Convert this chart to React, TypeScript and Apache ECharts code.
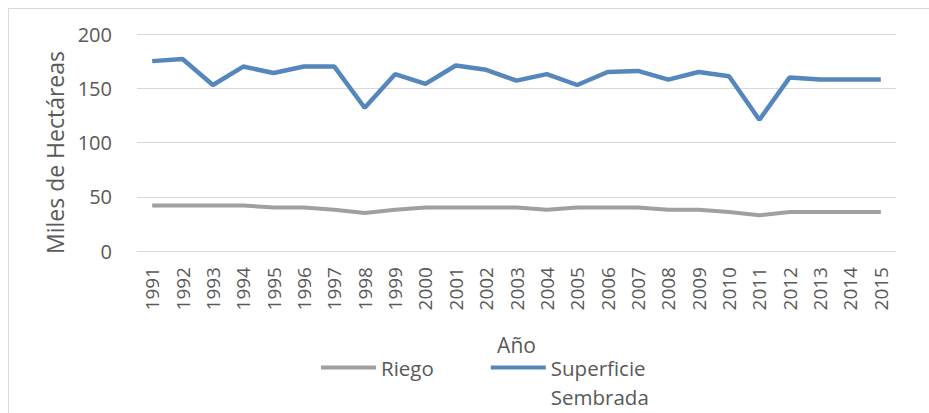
import React, { useEffect, useRef } from "react";
import * as echarts from "echarts";

const years = [
  "1991", "1992", "1993", "1994", "1995", "1996", "1997", "1998", "1999", "2000",
  "2001", "2002", "2003", "2004", "2005", "2006", "2007", "2008", "2009", "2010",
  "2011", "2012", "2013", "2014", "2015",
];
const riego = [42, 42, 42, 42, 40, 40, 38, 35, 38, 40, 40, 40, 40, 38, 40, 40, 40, 38, 38, 36, 33, 36, 36, 36, 36];
const superficie = [175, 177, 153, 170, 164, 170, 170, 132, 163, 154, 171, 167, 157, 163, 153, 165, 166, 158, 165, 161, 121, 160, 158, 158, 158];
const yTicks = { min: 0, max: 200, interval: 50 };

const FONT = "'Open Sans', sans-serif";
const TXT = "#595959";

export default function App() {
  const ref = useRef<HTMLDivElement>(null);
  useEffect(() => {
    if (!ref.current) return;
    const chart = echarts.init(ref.current, null, { renderer: "svg" });
    chart.setOption({
      animation: false,
      backgroundColor: "#ffffff",
      textStyle: { fontFamily: FONT },
      graphic: [
        {
          type: "rect",
          shape: { x: 8.5, y: 8.5, width: 960, height: 440 },
          style: { fill: "none", stroke: "#D9D9D9", lineWidth: 1 },
          silent: true,
        },
      ],
      grid: { left: 137, right: 33, top: 34, bottom: 162 },
      legend: {
        left: 316,
        top: 319,
        orient: "horizontal",
        itemWidth: 55,
        itemHeight: 4,
        itemGap: 57,
        textStyle: { color: TXT, fontSize: 20.5, fontFamily: FONT, lineHeight: 29 },
        formatter: (name: string) => (name === "Superficie Sembrada" ? "\nSuperficie\nSembrada" : name),
        data: [
          { name: "Riego", icon: "rect" },
          { name: "Superficie Sembrada", icon: "rect" },
        ],
      },
      xAxis: {
        type: "category",
        data: years,
        boundaryGap: true,
        name: "Año",
        nameLocation: "middle",
        nameGap: 83,
        nameTextStyle: { color: TXT, fontSize: 21, fontFamily: FONT },
        axisLine: { show: true, lineStyle: { color: "#D9D9D9", width: 1 } },
        axisTick: { show: false },
        axisLabel: { rotate: 90, color: TXT, fontSize: 19, fontFamily: FONT, margin: 16, interval: 0 },
      },
      yAxis: {
        type: "value",
        min: yTicks.min,
        max: yTicks.max,
        interval: yTicks.interval,
        name: "Miles de Hectáreas",
        nameLocation: "middle",
        nameRotate: 90,
        nameGap: 70,
        nameTextStyle: { color: TXT, fontSize: 23, fontFamily: FONT, padding: [0, 20, 0, 0] },
        axisLine: { show: false },
        axisTick: { show: false },
        axisLabel: { color: TXT, fontSize: 20, fontFamily: FONT, margin: 25 },
        splitLine: { lineStyle: { color: "#D9D9D9", width: 1 } },
      },
      series: [
        {
          name: "Riego",
          type: "line",
          data: riego,
          showSymbol: false,
          symbol: "none",
          lineStyle: { color: "#A0A0A0", width: 4 },
          itemStyle: { color: "#A0A0A0" },
        },
        {
          name: "Superficie Sembrada",
          type: "line",
          data: superficie,
          showSymbol: false,
          symbol: "none",
          lineStyle: { color: "#5587BC", width: 4.5 },
          itemStyle: { color: "#5587BC" },
        },
      ],
    });
    return () => chart.dispose();
  }, []);
  return <div ref={ref} style={{ position: "absolute", left: 0, top: 0, width: 929, height: 413 }} />;
}
